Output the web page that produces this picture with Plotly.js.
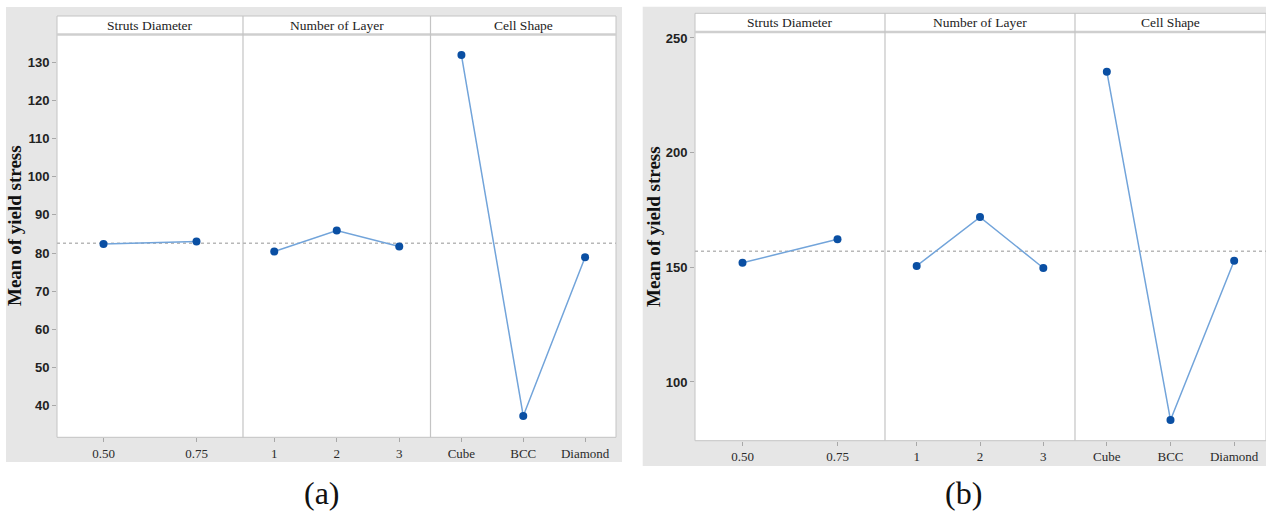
<!DOCTYPE html>
<html>
<head>
<meta charset="utf-8">
<script src="https://cdn.plot.ly/plotly-3.0.1.min.js"></script>
<style>html,body{margin:0;padding:0;background:#fff;}#chart{width:1266px;height:512px;}</style>
</head>
<body>
<div id="chart"></div>
<script>
// ---- data ----
const factorNames = ['Struts Diameter', 'Number of Layer', 'Cell Shape'];
const strutsDiameter = ['0.50', '0.75'];
const numberOfLayer = ['1', '2', '3'];
const cellShape = ['Cube', 'BCC', 'Diamond'];

// (a) Mean of yield stress
const yieldA_struts = [82.4, 83.0];
const yieldA_layer = [80.4, 85.9, 81.7];
const yieldA_shape = [131.9, 37.3, 78.9];
const meanA = 82.6;
const yTicksA = [40, 50, 60, 70, 80, 90, 100, 110, 120, 130];

// (b) Mean of yield stress
const yieldB_struts = [152.0, 162.2];
const yieldB_layer = [150.6, 171.9, 149.7];
const yieldB_shape = [235.3, 83.4, 152.9];
const meanB = 157.0;
const yTicksB = [100, 150, 200, 250];

const panelLabels = ['(a)', '(b)'];
const yTitle = 'Mean of yield stress';

// ---- layout helpers ----
const W = 1266, H = 512;
const px = x => x / W;
const py = y => 1 - y / H;

const lineColor = '#72a4da';
const markerColor = '#0a4fa3';
const frameColor = '#c4c4c4';
const serif = 'Liberation Serif, Times New Roman, serif';

function trace(x, y, xa, ya) {
  return {
    x: x, y: y, xaxis: xa, yaxis: ya, type: 'scatter', mode: 'lines+markers',
    line: {color: lineColor, width: 1.5},
    marker: {color: markerColor, size: 8},
    hoverinfo: 'x+y', showlegend: false, cliponaxis: false
  };
}

const data = [
  trace(strutsDiameter, yieldA_struts, 'x', 'y'),
  trace(numberOfLayer, yieldA_layer, 'x2', 'y'),
  trace(cellShape, yieldA_shape, 'x3', 'y'),
  trace(strutsDiameter, yieldB_struts, 'x4', 'y2'),
  trace(numberOfLayer, yieldB_layer, 'x5', 'y2'),
  trace(cellShape, yieldB_shape, 'x6', 'y2')
];

// geometry (pixels)
const A = {l: 57, r: 616, top: 16, stripB: 34.5, bot: 437.3, div: [243, 430.5], bg: [6, 7, 622, 462]};
const B = {l: 695, r: 1266, top: 13.3, stripB: 32, bot: 440.7, div: [885, 1075], bg: [642.7, 6.7, 1266, 466]};

function xAxis(cats, x0, x1, anchor) {
  return {
    type: 'category', domain: [px(x0), px(x1)], anchor: anchor,
    range: [-0.5, cats.length - 0.5],
    showgrid: false, zeroline: false, showline: false,
    ticks: 'outside', ticklen: 4, tickcolor: '#a8a8a8', tickwidth: 1,
    tickfont: {family: serif, size: 13, color: '#2a2a2a'},
    fixedrange: true
  };
}
function yAxis(ticks, rng, top, bot, anchor) {
  return {
    domain: [py(bot), py(top)], anchor: anchor, range: rng,
    tickvals: ticks, showgrid: false, zeroline: false, showline: false,
    ticks: 'outside', ticklen: 4, tickcolor: '#a8a8a8', tickwidth: 1,
    tickfont: {family: 'Liberation Sans, Arial, sans-serif', size: 13, color: '#222', weight: 'bold'},
    fixedrange: true
  };
}

const layout = {
  width: W, height: H,
  margin: {l: 0, r: 0, t: 0, b: 0, pad: 0},
  paper_bgcolor: '#ffffff', plot_bgcolor: 'rgba(0,0,0,0)',
  showlegend: false,
  xaxis: xAxis(strutsDiameter, A.l, A.div[0], 'y'),
  xaxis2: xAxis(numberOfLayer, A.div[0], A.div[1], 'y'),
  xaxis3: xAxis(cellShape, A.div[1], A.r, 'y'),
  xaxis4: xAxis(strutsDiameter, B.l, B.div[0], 'y2'),
  xaxis5: xAxis(numberOfLayer, B.div[0], B.div[1], 'y2'),
  xaxis6: xAxis(cellShape, B.div[1], B.r, 'y2'),
  yaxis: yAxis(yTicksA, [31.7, 137.3], A.stripB, A.bot, 'x'),
  yaxis2: yAxis(yTicksB, [74.4, 252.6], B.stripB, B.bot, 'x4'),
  shapes: [],
  annotations: []
};

[[A, meanA, 'y'], [B, meanB, 'y2']].forEach(([P, mean, yref]) => {
  const S = layout.shapes;
  S.push({type: 'rect', layer: 'below', xref: 'paper', yref: 'paper',
    x0: px(P.bg[0]), x1: px(P.bg[2]), y0: py(P.bg[3]), y1: py(P.bg[1]),
    fillcolor: '#e6e6e6', line: {width: 0}});
  S.push({type: 'rect', layer: 'below', xref: 'paper', yref: 'paper',
    x0: px(P.l), x1: px(P.r), y0: py(P.bot), y1: py(P.top),
    fillcolor: '#ffffff', line: {color: frameColor, width: 1}});
  S.push({type: 'line', layer: 'below', xref: 'paper', yref: 'paper',
    x0: px(P.l), x1: px(P.r), y0: py(P.stripB), y1: py(P.stripB),
    line: {color: '#cfcfcf', width: 2.5}});
  P.div.forEach(d => S.push({type: 'line', layer: 'below', xref: 'paper', yref: 'paper',
    x0: px(d), x1: px(d), y0: py(P.bot), y1: py(P.top),
    line: {color: frameColor, width: 1.2}}));
  S.push({type: 'line', layer: 'below', xref: 'paper', yref: yref,
    x0: px(P.l), x1: px(P.r), y0: mean, y1: mean,
    line: {color: '#b8b8b8', width: 1.5, dash: '3px,3px'}});

  const edges = [P.l, P.div[0], P.div[1], P.r];
  factorNames.forEach((name, k) => {
    layout.annotations.push({xref: 'paper', yref: 'paper',
      x: px((edges[k] + edges[k + 1]) / 2), y: py((P.top + P.stripB) / 2),
      text: name, showarrow: false, xanchor: 'center', yanchor: 'middle',
      font: {family: serif, size: 13.5, color: '#222'}});
  });
});

// y-axis titles
layout.annotations.push({xref: 'paper', yref: 'paper', x: px(14), y: py(226),
  text: yTitle, textangle: -90, showarrow: false, xanchor: 'center', yanchor: 'middle',
  font: {family: serif, size: 19, color: '#111', weight: 'bold'}});
layout.annotations.push({xref: 'paper', yref: 'paper', x: px(653), y: py(227),
  text: yTitle, textangle: -90, showarrow: false, xanchor: 'center', yanchor: 'middle',
  font: {family: serif, size: 19, color: '#111', weight: 'bold'}});

// panel labels
layout.annotations.push({xref: 'paper', yref: 'paper', x: px(322), y: py(493),
  text: panelLabels[0], showarrow: false, xanchor: 'center', yanchor: 'middle',
  font: {family: serif, size: 32, color: '#111'}});
layout.annotations.push({xref: 'paper', yref: 'paper', x: px(963), y: py(493),
  text: panelLabels[1], showarrow: false, xanchor: 'center', yanchor: 'middle',
  font: {family: serif, size: 32, color: '#111'}});

Plotly.newPlot('chart', data, layout, {displayModeBar: false, staticPlot: true});
</script>
</body>
</html>
